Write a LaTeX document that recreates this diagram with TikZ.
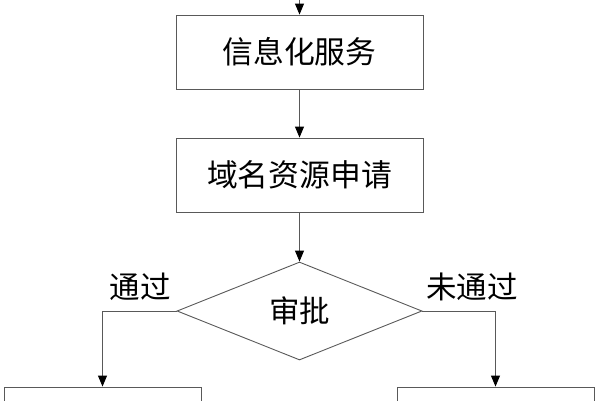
\documentclass[tikz,border=0pt]{standalone}
\usepackage{fontspec}
\setmainfont{Noto Sans CJK SC}
\usetikzlibrary{shapes.geometric,arrows.meta}
\tikzset{
  boxnode/.style={draw=black!65, line width=0.9pt, minimum width=247pt, minimum height=74pt, inner sep=0pt, font=\fontsize{30.8pt}{33pt}\selectfont},
  decnode/.style={draw=black!65, line width=0.9pt, diamond, aspect=2.5, minimum width=245pt, minimum height=98pt, inner sep=0pt, font=\fontsize{30.5pt}{33pt}\selectfont},
  lbl/.style={font=\fontsize{30.5pt}{33pt}\selectfont, inner sep=0pt},
  conn/.style={draw=black!65, line width=0.9pt, -{Triangle[length=11pt,width=9pt,fill=black,color=black]}},
}
\begin{document}
\begin{tikzpicture}[x=1pt,y=-1pt]
\useasboundingbox (0,0) rectangle (600,400);
\clip (0,0) rectangle (600,400);
\coordinate (top) at (299.5,-2);
\node[boxnode] (b1) at (299.5,52) {信息化服务};
\node[boxnode] (b2) at (299.5,175) {域名资源申请};
\node[decnode] (d) at (299.5,311) {审批};
\node[boxnode, minimum width=197pt] (bl) at (102.5,424) {};
\node[boxnode, minimum width=197pt] (br) at (495.5,424) {};
\node[lbl] (lp) at (140,287) {通过};
\node[lbl] (lf) at (472,287) {未通过};
\draw[conn] (top) -- (b1.north);
\draw[conn] (b1.south) -- (b2.north);
\draw[conn] (b2.south) -- (d.north);
\draw[conn] (d.west) -| (bl.north);
\draw[conn] (d.east) -| (br.north);
\end{tikzpicture}
\end{document}
